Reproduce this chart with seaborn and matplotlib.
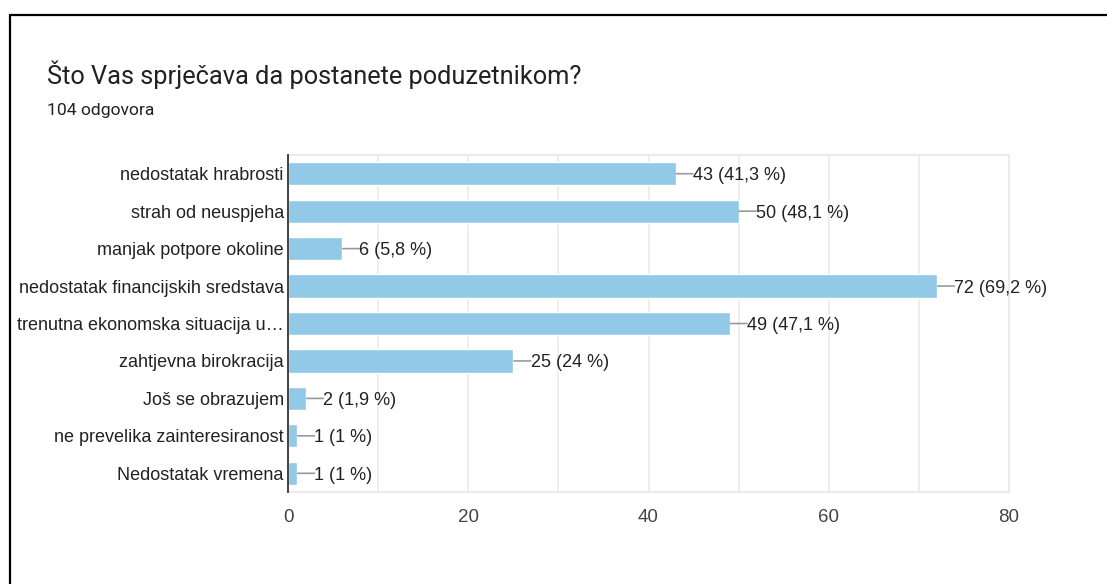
import pandas as pd
import seaborn as sns
import matplotlib
import matplotlib.pyplot as plt
from matplotlib.lines import Line2D
from matplotlib.ticker import MultipleLocator

matplotlib.use('Agg')

# podaci s grafa
kategorije = ['nedostatak hrabrosti', 'strah od neuspjeha', 'manjak potpore okoline',
              'nedostatak financijskih sredstava', 'trenutna ekonomska situacija u…',
              'zahtjevna birokracija', 'Još se obrazujem', 'ne prevelika zainteresiranost',
              'Nedostatak vremena']
odgovori = [43, 50, 6, 72, 49, 25, 2, 1, 1]
postotci = ['41,3', '48,1', '5,8', '69,2', '47,1', '24', '1,9', '1', '1']
x_ticks = [0, 20, 40, 60, 80]

df = pd.DataFrame({'kategorija': kategorije, 'broj': odgovori})

sns.set_style('whitegrid')
plt.rcParams['font.family'] = ['Liberation Sans', 'DejaVu Sans']

fig = plt.figure(figsize=(11.07, 5.84), dpi=100)
ax = fig.add_axes([0.2602, 0.1575, 0.6513, 0.5771])

sns.barplot(data=df, x='broj', y='kategorija', orient='h', color='#92c9e6',
            saturation=1, width=0.62, ax=ax)

# oznake uz stupce
for i, (n, p) in enumerate(zip(odgovori, postotci)):
    ax.annotate('', xy=(n, i), xytext=(12.5, 0), textcoords='offset points',
                arrowprops=dict(arrowstyle='-', color='#9a9a9a', lw=1.2,
                                shrinkA=0, shrinkB=0.5))
    ax.annotate(f'{n} ({p} %)', xy=(n, i), xytext=(12.5, 0), textcoords='offset points',
                ha='left', va='center_baseline', fontsize=13, color='#222222')

ax.set_xlim(0, 80)
ax.set_ylim(8.5, -0.5)
ax.set_xticks(x_ticks)
ax.xaxis.set_minor_locator(MultipleLocator(10))
ax.grid(True, which='both', axis='x', color='#ebebeb', lw=1.2)
ax.grid(False, axis='y')
ax.set_xlabel('')
ax.set_ylabel('')
ax.tick_params(axis='x', which='both', length=0, pad=12, labelsize=13.5, labelcolor='#444444')
ax.tick_params(axis='y', length=0, pad=3, labelsize=13, labelcolor='#222222')
for lbl in ax.get_yticklabels():
    lbl.set_verticalalignment('center_baseline')

for s in ['top', 'right', 'bottom']:
    ax.spines[s].set_color('#ebebeb')
    ax.spines[s].set_linewidth(1.5)
ax.spines['left'].set_color('#333333')
ax.spines['left'].set_linewidth(1.3)
ax.spines['left'].set_zorder(5)

# naslov i podnaslov
fig.text(47 / 1107, 1 - 75 / 584, 'Što Vas sprječava da postanete poduzetnikom?',
         fontsize=18.3, family=['Roboto', 'DejaVu Sans'], color='#202124', va='center')
fig.text(47 / 1107, 1 - 110 / 584, '104 odgovora',
         fontsize=12.6, family=['Roboto', 'DejaVu Sans'], color='#202124', va='center')

# okvir snimke zaslona
fig.add_artist(Line2D([10 / 1107, 10 / 1107], [0, 1 - 15 / 584], color='black', lw=1.6))
fig.add_artist(Line2D([10 / 1107, 1], [1 - 15 / 584, 1 - 15 / 584], color='black', lw=1.6))

fig.savefig('out.png', dpi=100)
